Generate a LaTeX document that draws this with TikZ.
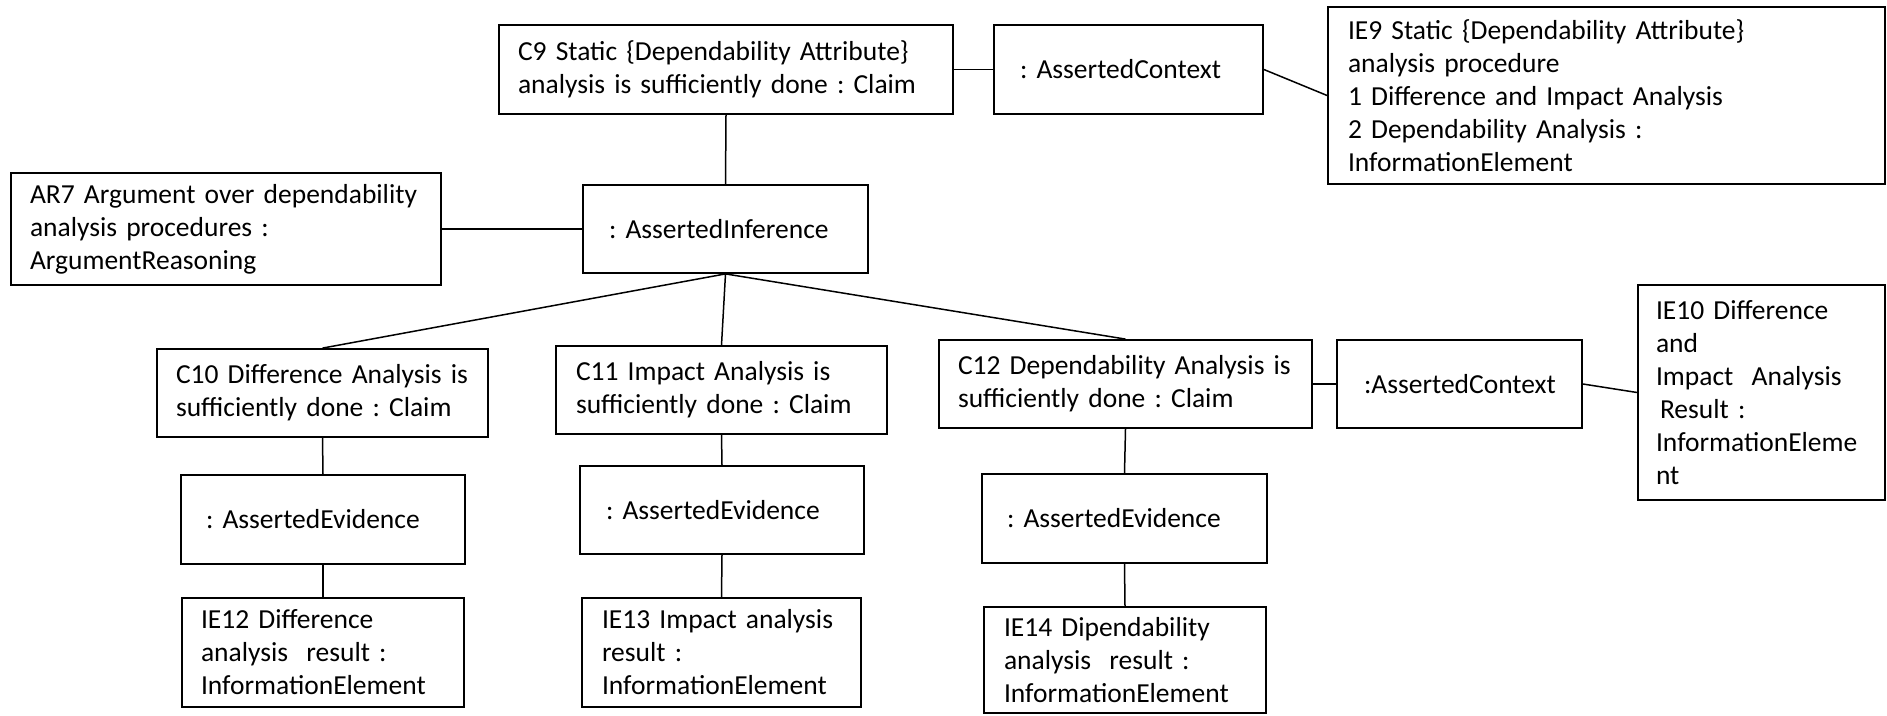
\documentclass[tikz,border=0pt]{standalone}
\usepackage{fontspec}
\setmainfont{Carlito}
\hyphenpenalty=10000
\exhyphenpenalty=10000
\frenchspacing
\begin{document}
\begin{tikzpicture}[x=1pt,y=-1pt,
  box/.style={draw, line width=1.8pt, align=left, inner sep=0pt, font={\frenchspacing\fontsize{27.5}{33}\selectfont}},
  link/.style={line width=1.5pt}]
\useasboundingbox (0,0) rectangle (1887,715);
\node[box, minimum width=454pt, minimum height=89pt, text width=416pt] (c9) at (726,69.5)
  {C9 Static \{Dependability Attribute\}\\analysis is sufficiently done : Claim};
\node[box, minimum width=269pt, minimum height=89pt, text width=217pt] (ac1) at (1128.5,69.5)
  {: AssertedContext};
\node[box, minimum width=557pt, minimum height=177pt, text width=517pt] (ie9) at (1606.5,95.5)
  {IE9 Static \{Dependability Attribute\}\\analysis procedure\\1 Difference and Impact Analysis\\2 Dependability Analysis :\\InformationElement};
\node[box, minimum width=430pt, minimum height=112pt, text width=392pt] (ar7) at (226,229)
  {AR7 Argument over dependability\\analysis procedures :\\ArgumentReasoning};
\node[box, minimum width=285pt, minimum height=88pt, text width=233pt] (ai) at (725.5,229)
  {: AssertedInference};
\node[box, minimum width=331pt, minimum height=88pt, text width=293pt] (c10) at (322.5,393)
  {C10 Difference Analysis is\\sufficiently done : Claim};
\node[box, minimum width=331pt, minimum height=88pt, text width=291pt] (c11) at (721.5,390)
  {C11 Impact Analysis is\\sufficiently done : Claim};
\node[box, minimum width=373pt, minimum height=88pt, text width=335pt] (c12) at (1125.5,384)
  {C12 Dependability Analysis is\\sufficiently done : Claim};
\node[box, minimum width=245pt, minimum height=88pt, text width=191pt] (ac2) at (1459.5,384)
  {:AssertedContext};
\node[box, minimum width=247pt, minimum height=215pt, text width=211pt] (ie10) at (1761.5,392.5)
  {IE10 Difference\\and\\Impact\ \ Analysis\\\hspace*{4pt}Result :\\InformationEleme\\nt};
\node[box, minimum width=284pt, minimum height=89pt, text width=234pt] (ae1) at (323,519.5)
  {: AssertedEvidence};
\node[box, minimum width=284pt, minimum height=88pt, text width=232pt] (ae2) at (722,510)
  {: AssertedEvidence};
\node[box, minimum width=285pt, minimum height=89pt, text width=235pt] (ae3) at (1124.5,518.5)
  {: AssertedEvidence};
\node[box, minimum width=282pt, minimum height=109pt, text width=244pt] (ie12) at (323,652.5)
  {IE12 Difference\\analysis\ \ result :\\InformationElement};
\node[box, minimum width=279pt, minimum height=109pt, text width=239pt] (ie13) at (721.5,652.5)
  {IE13 Impact analysis\\result :\\InformationElement};
\node[box, minimum width=282pt, minimum height=106pt, text width=242pt] (ie14) at (1125,660)
  {IE14 Dipendability\\analysis\ \ result :\\InformationElement};
\draw[link] (c9.south) -- (ai.north);
\draw[link] (c9.east) -- (ac1.west);
\draw[link] (ac1.east) -- (ie9.west);
\draw[link] (ar7.east) -- (ai.west);
\draw[link] (ai.south) -- (c10.north);
\draw[link] (ai.south) -- (c11.north);
\draw[link] (ai.south) -- (c12.north);
\draw[link] (c12.east) -- (ac2.west);
\draw[link] (ac2.east) -- (ie10.west);
\draw[link] (c10.south) -- (ae1.north);
\draw[link] (ae1.south) -- (ie12.north);
\draw[link] (c11.south) -- (ae2.north);
\draw[link] (ae2.south) -- (ie13.north);
\draw[link] (c12.south) -- (ae3.north);
\draw[link] (ae3.south) -- (ie14.north);
\end{tikzpicture}
\end{document}
